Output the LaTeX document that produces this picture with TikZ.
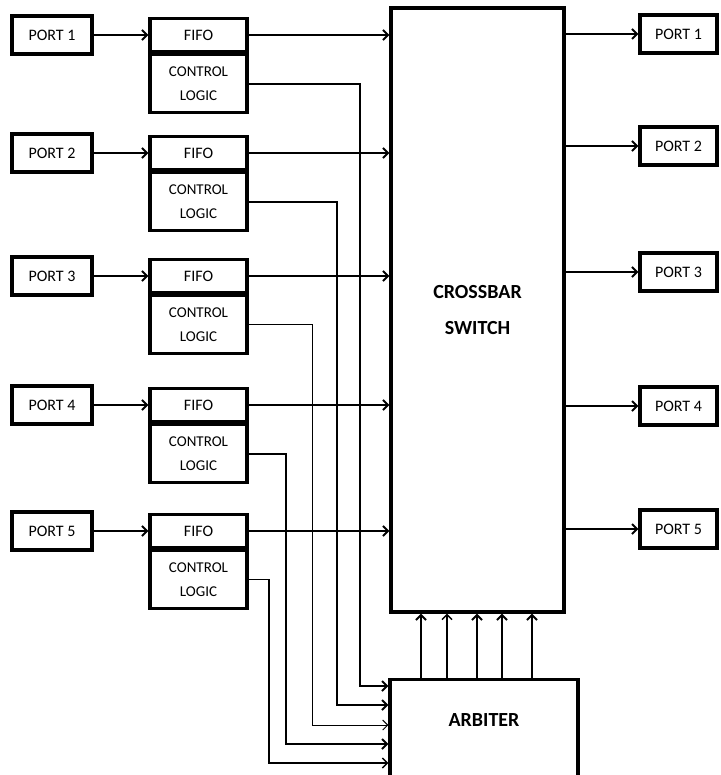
\documentclass[tikz,border=0pt]{standalone}
\usepackage{fontspec}
\setmainfont{Carlito}
\usetikzlibrary{arrows.meta}
\begin{document}
\begin{tikzpicture}[x=1pt,y=-1pt,
  box/.style={draw, line width=3.2pt, inner sep=0pt, align=center},
  txt/.style={font=\fontsize{16}{18}\selectfont},
  pbox/.style={box, txt, minimum width=80pt, minimum height=38pt},
  rpbox/.style={box, txt, minimum width=77pt, minimum height=38pt},
  fbox/.style={box, txt, minimum width=97pt, minimum height=33pt},
  cbox/.style={box, font=\fontsize{15}{24}\selectfont, minimum width=97pt, minimum height=58pt, anchor=north},
  ln/.style={line width=2pt},
  arr/.style={ln, -{Straight Barb[length=5pt,width=10pt]}},
  thinarr/.style={line width=1pt, -{Straight Barb[length=5pt,width=10pt]}},
  midarr/.style={line width=1.4pt, -{Straight Barb[length=5pt,width=10pt]}}
]
\useasboundingbox (0,0) rectangle (720,775);
\fill[white] (0,0) rectangle (720,775);
\clip (0,0) rectangle (720,775);

% crossbar and arbiter
\node[box, minimum width=173pt, minimum height=604pt, font=\bfseries\fontsize{20}{36}\selectfont] (cross) at (477.5,310) {CROSSBAR\\SWITCH};
\node[box, minimum width=188pt, minimum height=140pt, anchor=north] (arb) at (484,678) {};
\node[font=\bfseries\fontsize{20}{22}\selectfont] (arbtxt) at (484,720) {ARBITER};

% left rows
\foreach \i/\y in {1/35,2/153,3/276,4/405,5/531}{
  \node[pbox] (pl\i) at (52,\y) {PORT \i};
  \node[fbox] (f\i) at (198.5,\y) {FIFO};
  \node[cbox] (c\i) at (f\i.south) {CONTROL\\LOGIC};
  \draw[arr] (pl\i.east) -- (f\i.west);
  \draw[arr] (f\i.east) -- (f\i.east -| cross.west);
}

% right ports
\foreach \i/\y in {1/34,2/146,3/272,4/406,5/529}{
  \node[rpbox] (pr\i) at (678.5,\y) {PORT \i};
  \draw[arr] (pr\i.west -| cross.east) -- (pr\i.west);
}

% control lines to arbiter
\draw[arr] (c1.east) -| (360,686) -- (arb.west |- 360,686);
\draw[arr] (c2.east) -| (337,705) -- (arb.west |- 337,705);
\draw[thinarr] (c3.east) -| (312,725) -- (arb.west |- 312,725);
\draw[arr] (c4.east) -| (286,744) -- (arb.west |- 286,744);
\draw[midarr] (c5.east) -| (269,763) -- (arb.west |- 269,763);

% arbiter to crossbar
\draw[arr] (arb.north -| 421,0) -- (cross.south -| 421,0);
\draw[midarr] (arb.north -| 447,0) -- (cross.south -| 447,0);
\draw[arr] (arb.north -| 477,0) -- (cross.south -| 477,0);
\draw[arr] (arb.north -| 502,0) -- (cross.south -| 502,0);
\draw[arr] (arb.north -| 532,0) -- (cross.south -| 532,0);
\end{tikzpicture}
\end{document}
